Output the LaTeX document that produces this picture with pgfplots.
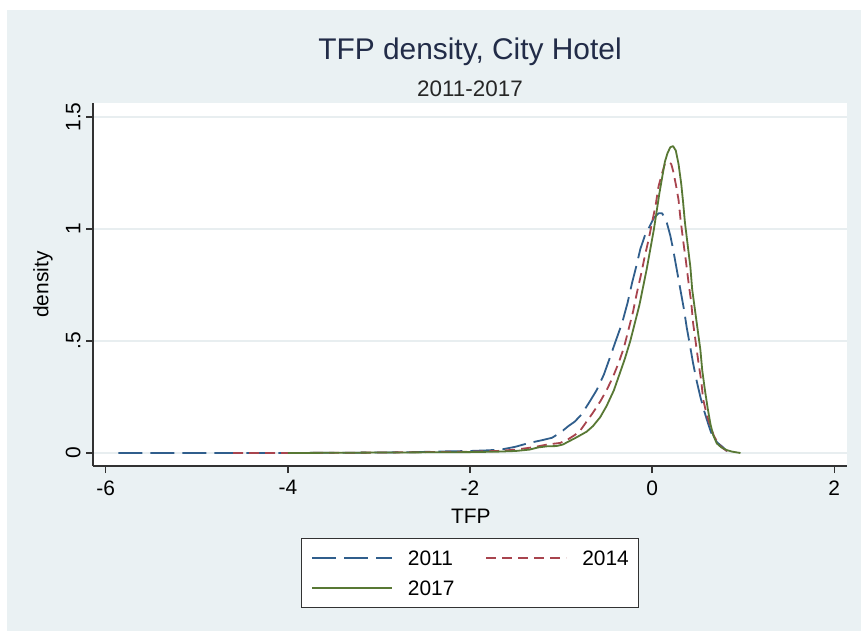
\documentclass[border=0pt]{standalone}
\usepackage{fontspec}
\setmainfont{Liberation Sans}
\usepackage{pgfplots}
\pgfplotsset{compat=1.18}
\usepackage{xcolor}

\definecolor{bggray}{RGB}{234,241,243}
\definecolor{gridgray}{RGB}{232,238,240}
\definecolor{axisgray}{RGB}{50,50,50}
\definecolor{titlenavy}{RGB}{34,44,72}
\definecolor{c2011}{RGB}{48,94,140}
\definecolor{c2014}{RGB}{168,68,78}
\definecolor{c2017}{RGB}{88,120,52}

\begin{document}
\begin{tikzpicture}
\useasboundingbox (0,0) rectangle (861bp,631bp);
\fill[white] (0,0) rectangle (861bp,631bp);
\fill[bggray] (7bp,0) rectangle (861bp,621bp);

\begin{axis}[
    at={(93bp,165bp)}, anchor=south west,
    scale only axis,
    width=754bp, height=363bp,
    xmin=-6.14, xmax=2.14,
    ymin=-0.058, ymax=1.5625,
    axis background/.style={fill=white},
    axis x line*=bottom, axis y line*=left,
    axis line style={draw=axisgray, line width=1.3bp},
    every tick/.style={draw=axisgray, line width=1.3bp},
    tick align=outside,
    major tick length=7bp,
    xtick={-6,-4,-2,0,2},
    xticklabels={-6,-4,-2,0,2},
    ytick={0,0.5,1,1.5},
    yticklabels={0,.5,1,1.5},
    tick label style={font=\fontsize{21}{21}\selectfont, text=black},
    xticklabel style={anchor=north, yshift=-4bp},
    yticklabel style={rotate=90, anchor=south, yshift=2bp},
    ymajorgrids,
    grid style={draw=gridgray, line width=1.2bp},
    xlabel={TFP},
    ylabel={density},
    label style={font=\fontsize{21}{21}\selectfont},
    xlabel style={at={(axis description cs:0.501,-0.1377)}, anchor=center},
    ylabel style={at={(axis description cs:-0.0663,0.5)}, anchor=center, rotate=0},
    clip=false,
    legend columns=2,
    legend cell align=left,
    legend image code/.code={\draw[#1] (0bp,0bp) -- (80bp,0bp);},
    legend style={
        at={(axis description cs:0.5,-0.198)}, anchor=north,
        draw=axisgray, line width=1.2bp, fill=white,
        font=\fontsize{21}{21}\selectfont,
        inner xsep=10bp, inner ysep=12bp,
        nodes={inner xsep=0bp, inner ysep=0bp, text height=15bp, text depth=0bp},
        row sep=15bp,
        /tikz/every odd column/.append style={column sep=15bp},
        /tikz/every even column/.append style={column sep=31bp},
    },
]

% 2011
\addplot[c2011, line width=1.8bp, dash pattern=on 24bp off 8bp, line join=round] coordinates {
    (-5.86,0.000) (-5.0,0.000) (-4.0,0.000) (-3.5,0.001) (-3.0,0.002)
    (-2.6,0.004) (-2.3,0.007) (-2.0,0.009) (-1.8,0.012) (-1.65,0.016)
    (-1.5,0.028) (-1.35,0.045) (-1.2,0.058) (-1.1,0.068) (-1.01,0.09)
    (-0.92,0.12) (-0.85,0.14) (-0.78,0.17) (-0.70,0.22) (-0.61,0.28)
    (-0.53,0.35) (-0.46,0.43) (-0.40,0.50) (-0.33,0.58) (-0.27,0.67)
    (-0.22,0.76) (-0.17,0.84) (-0.13,0.91) (-0.08,0.97) (-0.03,1.01)
    (0.02,1.05) (0.07,1.07) (0.11,1.07) (0.16,1.03) (0.20,0.97)
    (0.23,0.91) (0.27,0.82) (0.31,0.73) (0.35,0.64) (0.38,0.56)
    (0.42,0.47) (0.45,0.40) (0.49,0.32) (0.53,0.25) (0.57,0.19)
    (0.60,0.15) (0.64,0.10) (0.67,0.07) (0.72,0.045) (0.78,0.025)
    (0.82,0.008)
};
\addlegendentry{2011}

% 2014
\addplot[c2014, line width=1.8bp, dash pattern=on 10bp off 6bp, line join=round] coordinates {
    (-4.6,0.000) (-4.0,0.000) (-3.5,0.001) (-3.0,0.002) (-2.5,0.004)
    (-2.0,0.006) (-1.7,0.009) (-1.5,0.015) (-1.3,0.026) (-1.15,0.038)
    (-1.01,0.045) (-0.92,0.062) (-0.85,0.08) (-0.79,0.10) (-0.72,0.14)
    (-0.65,0.18) (-0.57,0.23) (-0.50,0.28) (-0.43,0.34) (-0.37,0.40)
    (-0.31,0.47) (-0.26,0.55) (-0.21,0.63) (-0.17,0.71) (-0.12,0.80)
    (-0.08,0.88) (-0.04,0.95) (0.00,1.03) (0.04,1.11) (0.07,1.19)
    (0.11,1.25) (0.14,1.29) (0.18,1.30) (0.21,1.29) (0.23,1.26)
    (0.26,1.20) (0.29,1.13) (0.31,1.05) (0.34,0.95) (0.37,0.86)
    (0.40,0.76) (0.43,0.67) (0.45,0.58) (0.48,0.49) (0.51,0.40)
    (0.54,0.32) (0.56,0.24) (0.60,0.17) (0.64,0.12) (0.68,0.075)
    (0.73,0.04) (0.78,0.02) (0.82,0.01) (0.88,0.002)
};
\addlegendentry{2014}

% 2017
\addplot[c2017, line width=1.8bp, line join=round] coordinates {
    (-4.0,0.000) (-3.5,0.001) (-3.0,0.002) (-2.5,0.003) (-2.0,0.004)
    (-1.7,0.006) (-1.5,0.009) (-1.35,0.015) (-1.25,0.025) (-1.15,0.030)
    (-1.05,0.031) (-0.98,0.038) (-0.90,0.055) (-0.83,0.07) (-0.72,0.095)
    (-0.65,0.12) (-0.57,0.16) (-0.50,0.21) (-0.42,0.28) (-0.36,0.35)
    (-0.30,0.42) (-0.24,0.50) (-0.19,0.58) (-0.14,0.66) (-0.10,0.74)
    (-0.06,0.82) (-0.02,0.91) (0.02,1.00) (0.05,1.08) (0.08,1.16)
    (0.11,1.23) (0.14,1.30) (0.17,1.34) (0.20,1.365) (0.23,1.37)
    (0.26,1.35) (0.29,1.29) (0.32,1.20) (0.34,1.12) (0.36,1.03)
    (0.39,0.93) (0.42,0.83) (0.44,0.73) (0.47,0.64) (0.50,0.55)
    (0.53,0.46) (0.55,0.37) (0.58,0.28) (0.61,0.20) (0.64,0.13)
    (0.67,0.08) (0.71,0.043) (0.76,0.025) (0.82,0.013) (0.88,0.006)
    (0.97,0.000)
};
\addlegendentry{2017}

\node[anchor=base, text=titlenavy, font=\fontsize{30}{30}\selectfont]
    at (axis description cs:0.5,1.121) {TFP density, City Hotel};
\node[anchor=base, text=black!85, font=\fontsize{22.5}{22.5}\selectfont]
    at (axis description cs:0.5,1.019) {2011-2017};
\end{axis}
\end{tikzpicture}
\end{document}
